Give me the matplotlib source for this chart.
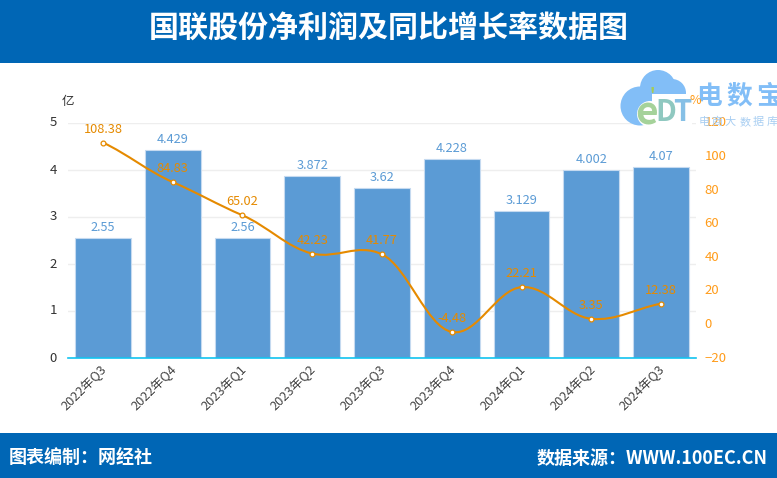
import matplotlib
matplotlib.use('Agg')
import matplotlib.pyplot as plt
from matplotlib.patches import Rectangle, Circle, PathPatch
from matplotlib.path import Path
from matplotlib.transforms import ScaledTranslation

plt.rcParams['font.family'] = ['Noto Sans CJK SC', 'DejaVu Sans']

quarters = ['2022年Q3', '2022年Q4', '2023年Q1', '2023年Q2', '2023年Q3',
            '2023年Q4', '2024年Q1', '2024年Q2', '2024年Q3']
profit = [2.55, 4.429, 2.56, 3.872, 3.62, 4.228, 3.129, 4.002, 4.07]
growth = [108.38, 84.83, 65.02, 42.23, 41.77, -4.48, 22.21, 3.35, 12.38]
profit_ticks = [0, 1, 2, 3, 4, 5]
growth_ticks = [-20, 0, 20, 40, 60, 80, 100, 120]

W, H = 777, 478
BLUE = '#5b9bd5'
ORANGE = '#e58a00'
TICK_ORANGE = '#ff9c1a'
BAND = '#0066b5'
LOGO = '#82bef7'

fig = plt.figure(figsize=(W / 100, H / 100), dpi=100, facecolor='white')
up = ScaledTranslation(0, 1.5 / 100, fig.dpi_scale_trans)
left = ScaledTranslation(-3 / 100, 0, fig.dpi_scale_trans)

# plot area in pixels: x 68-696, y 123-358
ax = fig.add_axes([68 / W, 1 - 358 / H, 628 / W, 235 / H])
x = list(range(len(quarters)))
ax.bar(x, profit, width=0.8, color=BLUE, edgecolor='#c5daf0', linewidth=0.8, zorder=2)
ax.set_xlim(-0.5, len(quarters) - 0.5)
ax.set_ylim(0, 5)
ax.set_yticks(profit_ticks)
ax.set_xticks(x)
ax.set_xticklabels(quarters, rotation=45, ha='right', va='top', rotation_mode='anchor',
                   fontsize=9.2, color='#444444')
ax.tick_params(axis='x', length=0, pad=3)
for lbl in ax.get_xticklabels():
    lbl.set_transform(lbl.get_transform() + left)
ax.tick_params(axis='y', length=0, pad=8, labelsize=9.5, labelcolor='#333333')
for lbl in ax.get_yticklabels():
    lbl.set_transform(lbl.get_transform() + up)
ax.grid(axis='y', color='#eeeeee', linewidth=1, zorder=0)
ax.set_axisbelow(True)
for s in ['top', 'left', 'right']:
    ax.spines[s].set_visible(False)
ax.spines['bottom'].set_color('#12c3f0')
ax.spines['bottom'].set_linewidth(1.2)
ax.spines['bottom'].set_zorder(5)

for i, v in zip(x, profit):
    ax.annotate(str(v), (i, v), xytext=(0, 3), textcoords='offset points', ha='center',
                va='bottom', fontsize=9.2, color=BLUE, zorder=6)

ax2 = ax.twinx()
ax2.set_ylim(-20, 120)
ax2.set_yticks(growth_ticks)
ax2.tick_params(axis='y', length=0, pad=6, labelsize=9.5, labelcolor=TICK_ORANGE)
for lbl in ax2.get_yticklabels():
    lbl.set_transform(lbl.get_transform() + up)
for s in ax2.spines.values():
    s.set_visible(False)

# smooth curve through the points, bezier handles from neighbouring points
k = 0.3
verts = [(x[0], growth[0])]
codes = [Path.MOVETO]
for i in range(len(x) - 1):
    prev_y = growth[max(i - 1, 0)]
    next_y = growth[min(i + 2, len(x) - 1)]
    h1 = (growth[i + 1] - prev_y) * k / (2 if 0 < i else 1)
    h2 = (next_y - growth[i]) * k / (2 if i < len(x) - 2 else 1)
    verts += [(x[i] + 0.36, growth[i] + h1), (x[i + 1] - 0.36, growth[i + 1] - h2),
              (x[i + 1], growth[i + 1])]
    codes += [Path.CURVE4, Path.CURVE4, Path.CURVE4]
ax2.add_patch(PathPatch(Path(verts, codes), fill=False, edgecolor=ORANGE, linewidth=1.5,
                        capstyle='round', zorder=3))
ax2.scatter(x, growth, s=12, facecolor='white', edgecolor=ORANGE, linewidth=0.9, zorder=4)
for i, v in zip(x, growth):
    ax2.annotate(f'{v:.2f}', (i, v), xytext=(0, 5), textcoords='offset points', ha='center',
                 va='bottom', fontsize=9.2, color=ORANGE, zorder=6)

# overlay in pixel coordinates for the bands, unit labels and the watermark
ov = fig.add_axes([0, 0, 1, 1], facecolor='none')
ov.set_xlim(0, W)
ov.set_ylim(H, 0)
ov.axis('off')
ov.add_patch(Rectangle((0, 0), W, 63, color=BAND, lw=0))
ov.add_patch(Rectangle((0, 433), W, 45, color=BAND, lw=0))
ov.text(388.5, 29, '国联股份净利润及同比增长率数据图', color='white', fontsize=21.6,
        fontweight='bold', ha='center', va='center')
ov.text(9, 458, '图表编制：网经社', color='white', fontsize=13, fontweight='bold', va='center')
ov.text(768, 458, '数据来源：WWW.100EC.CN', color='white', fontsize=13, fontweight='bold',
        ha='right', va='center')
ov.text(68, 101, '亿', color='#333333', fontsize=9, ha='center', va='center')

# watermark logo
for cx, cy, r in [(640, 106, 19.5), (658, 88, 18), (672, 93, 14)]:
    ov.add_patch(Circle((cx, cy), r, color=LOGO, lw=0))
ov.add_patch(Circle((650, 114), 13, color='white', lw=0))
ov.add_patch(Rectangle((652, 94), 40, 34, color='white', lw=0))
ov.text(647, 113, 'e', color='#a5d29a', fontsize=28, fontweight='bold', ha='center', va='center')
ov.text(652, 96, "'", color='#a5cc55', fontsize=12, fontweight='bold', ha='center', va='center')
ov.text(666, 112, 'D', color='#8fc8c0', fontsize=21, fontweight='bold', ha='center', va='center')
ov.text(682, 112, 'T', color='#86c0e6', fontsize=21, fontweight='bold', ha='center', va='center')
for cx, ch in zip([709, 739, 769], '电数宝'):
    ov.text(cx, 96, ch, color=LOGO, fontsize=18.5, fontweight='bold', ha='center', va='center',
            clip_on=True)
for cx, ch in zip([704, 717, 730, 745, 758, 772], '电商大数据库'):
    ov.text(cx, 122, ch, color='#a8cef2', fontsize=8, ha='center', va='center', clip_on=True)
ov.text(695, 100, '%', color=TICK_ORANGE, fontsize=9, ha='center', va='center')

fig.savefig('out.png', dpi=100)
